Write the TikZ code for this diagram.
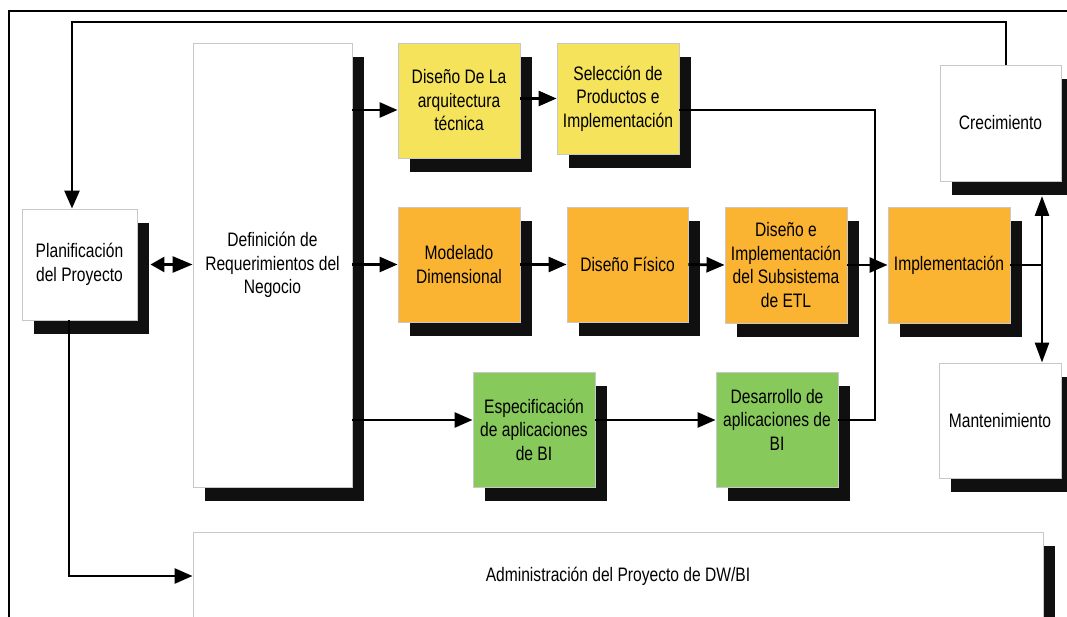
\documentclass[tikz,border=0pt]{standalone}
\usepackage{fontspec}
\setmainfont{Liberation Sans}[FakeStretch=0.8]
\usetikzlibrary{arrows.meta,shadows,calc}

\definecolor{yel}{HTML}{F4E35B}
\definecolor{ora}{HTML}{FBB432}
\definecolor{grn}{HTML}{88C95C}
\definecolor{boxedge}{HTML}{C8C8C8}
\definecolor{shd}{HTML}{101010}

\tikzset{
  box/.style={draw=boxedge, line width=0.9pt, fill=white, text=black,
    align=center, inner sep=0pt,
    font=\fontsize{19.5}{23.5}\selectfont,
    general shadow={fill=shd, shadow xshift=12pt, shadow yshift=-14pt}},
  lbl/.style={align=center, inner sep=0pt, text=black,
    font=\fontsize{19.5}{23.5}\selectfont},
  ln/.style={line width=2.7pt, draw=black},
  arr/.style={ln, -{Triangle[length=18pt,width=15pt]}},
  arrtwo/.style={ln, {Triangle[length=14pt,width=15pt]}-{Triangle[length=20pt,width=16pt]}},
}

\begin{document}
\begin{tikzpicture}[x=1pt,y=-1pt]
\useasboundingbox (0,0) rectangle (1067,617);
\clip (0,0) rectangle (1067,617);

% outer frame (left and top edges)
\draw[line width=2.2pt] (9,630) -- (9,11) -- (1070,11);

% process boxes
\node[box, minimum width=115pt, minimum height=111pt] (plan) at (79.5,264.5)
  {Planificación\\del Proyecto};
\node[box, minimum width=159pt, minimum height=444pt] (def) at (272.5,265)
  {Definición de\\Requerimientos del\\Negocio};
\node[box, fill=yel, minimum width=122pt, minimum height=115pt] (dla) at (459,100.5)
  {Diseño De La\\arquitectura\\técnica};
\node[box, fill=yel, minimum width=122pt, minimum height=111pt] (sel) at (618,98.5)
  {Selección de\\Productos e\\Implementación};
\node[box, minimum width=121pt, minimum height=116pt] (cre) at (1000.5,123)
  {Crecimiento};
\node[box, fill=ora, minimum width=122pt, minimum height=115pt] (mod) at (459,264.5)
  {Modelado\\Dimensional};
\node[box, fill=ora, minimum width=121pt, minimum height=115pt] (fis) at (627.5,264.5)
  {Diseño Físico};
\node[box, fill=ora, minimum width=122pt, minimum height=116pt] (dei) at (786,265)
  {Diseño e\\Implementación\\del Subsistema\\de ETL};
\node[box, fill=ora, minimum width=122pt, minimum height=116pt] (imp) at (949,265)
  {Implementación};
\node[box, minimum width=122pt, minimum height=115pt] (man) at (1000,420.5)
  {Mantenimiento};
\node[box, fill=grn, minimum width=122pt, minimum height=115pt] (esp) at (534,429.5)
  {Especificación\\de aplicaciones\\de BI};
\node[box, fill=grn, minimum width=122pt, minimum height=115pt] (dap) at (777,429.5) {};
\node[lbl] (dapt) at ($(dap.center)+(0,-10)$) {Desarrollo de\\aplicaciones de\\BI};
\node[box, minimum width=850pt, minimum height=88pt] (adm) at (618,576)
  {Administración del Proyecto de DW/BI};

% helper rows and columns for the connectors
\coordinate (rowa) at (0,110);
\coordinate (rowc) at (0,420);
\coordinate (bus) at (875,0);
\coordinate (vx) at (1042,0);
\coordinate (fb) at (72,22);

% connectors
\draw[arrtwo] ($(plan.east)+(13,0)$) -- (def.west |- plan.east);
\draw[arr] (def.east |- rowa) -- (dla.west |- rowa);
\draw[arr] (def.east |- mod.west) -- (mod.west);
\draw[arr] (def.east |- rowc) -- (esp.west |- rowc);
\draw[arr] (dla.east |- sel.west) -- (sel.west);
\draw[arr] (mod.east) -- (fis.west);
\draw[arr] (fis.east) -- (dei.west);
\draw[ln] (sel.east |- rowa) -| (bus |- rowc) -- (dap.east |- rowc);
\draw[arr] (esp.east |- rowc) -- (dap.west |- rowc);
\draw[arr] (dei.east) -- (imp.west);
\draw[ln] (imp.east) -- (vx |- imp.east);
\draw[ln, {Triangle[length=20pt,width=14pt]}-{Triangle[length=20pt,width=14pt]}]
  (vx |- 0,196) -- (vx |- man.north);
\draw[arr] ($(cre.north)+(5.5,0)$) |- (fb) -- (fb |- plan.north);
\draw[arr] ($(plan.south)+(-10.5,0)$) |- (adm.west);
\end{tikzpicture}
\end{document}
